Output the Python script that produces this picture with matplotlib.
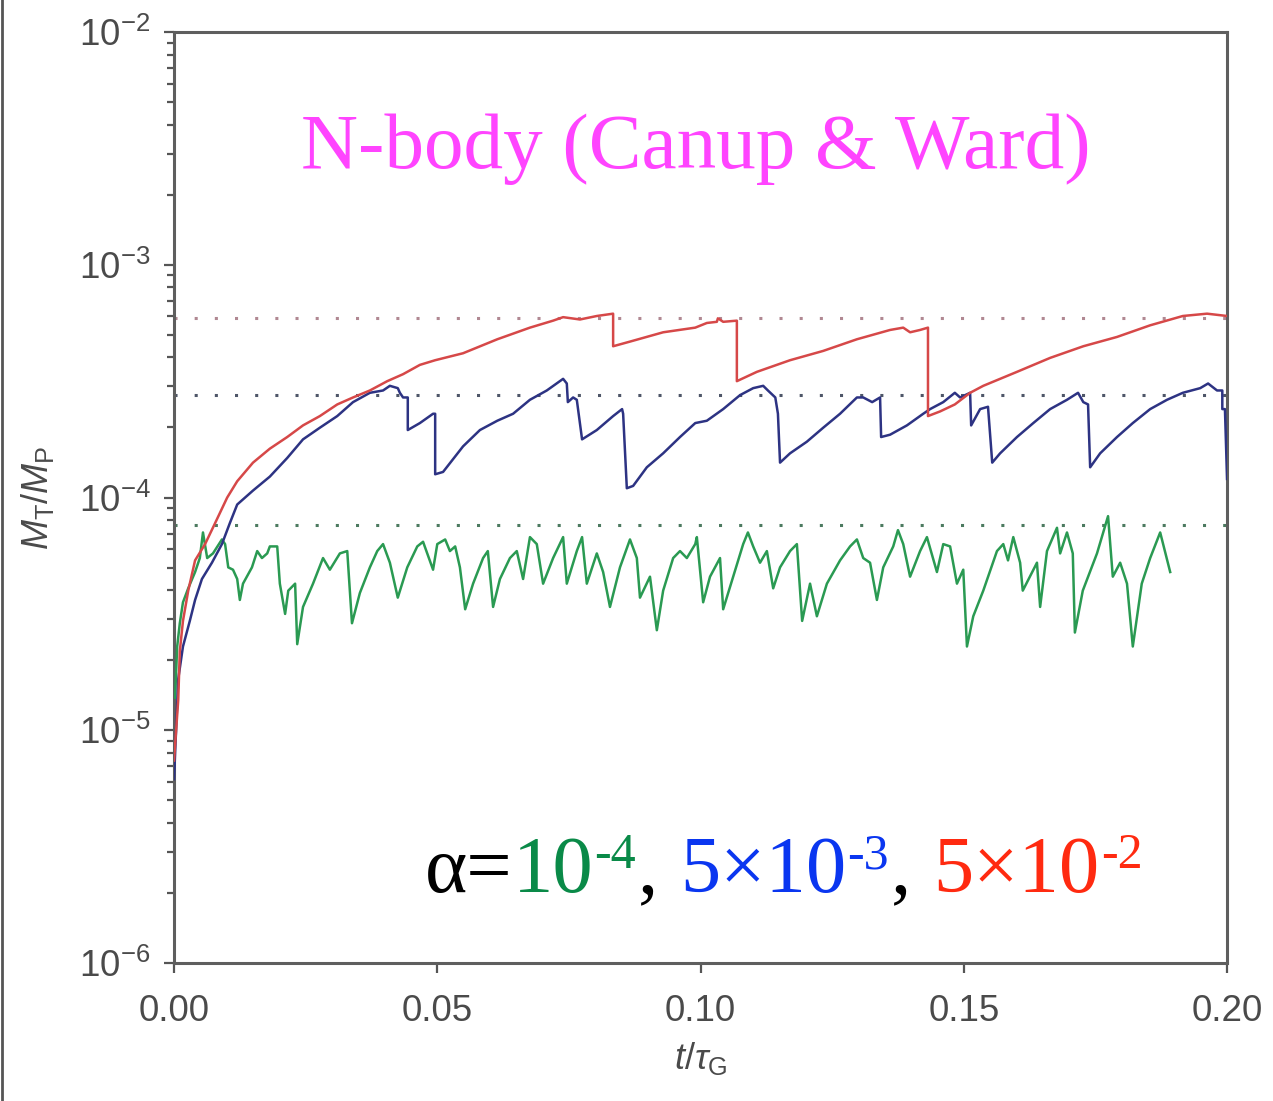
import numpy as np
import matplotlib
matplotlib.use('Agg')
import matplotlib.pyplot as plt
from matplotlib.lines import Line2D
from matplotlib.transforms import offset_copy

plt.rcParams['font.family'] = ['Liberation Sans', 'DejaVu Sans']
plt.rcParams['mathtext.fontset'] = 'custom'
plt.rcParams['mathtext.rm'] = 'Liberation Sans'
plt.rcParams['mathtext.it'] = 'Liberation Sans:italic'
plt.rcParams['mathtext.bf'] = 'Liberation Sans:bold'

# --- data (t / tau_G, log10 of M_T/M_P) ---
red_t = [0.0000, 0.0008, 0.0011, 0.0017, 0.0027, 0.0040, 0.0059, 0.0078, 0.0101, 0.0120,
         0.0150, 0.0182, 0.0215, 0.0245, 0.0277, 0.0310, 0.0340, 0.0372, 0.0405, 0.0435,
         0.0467, 0.0496, 0.0549, 0.0614, 0.0676, 0.0720, 0.0739, 0.0771, 0.0803, 0.0834,
         0.0834, 0.0866, 0.0929, 0.0990, 0.1012, 0.1031, 0.1033, 0.1043, 0.1069,
         0.1069, 0.1107, 0.1170, 0.1233, 0.1297, 0.1360, 0.1385, 0.1398, 0.1417, 0.1432,
         0.1432, 0.1455, 0.1483, 0.1512, 0.1537, 0.1601, 0.1664, 0.1727, 0.1791, 0.1854,
         0.1916, 0.1962, 0.2000]
red_logm = [-5.13, -4.87, -4.66, -4.53, -4.40, -4.27, -4.20, -4.11, -4.00, -3.93,
            -3.85, -3.79, -3.74, -3.69, -3.65, -3.60, -3.57, -3.54, -3.50, -3.47,
            -3.43, -3.41, -3.38, -3.32, -3.27, -3.24, -3.225, -3.235, -3.22, -3.21,
            -3.35, -3.33, -3.29, -3.27, -3.25, -3.245, -3.23, -3.245, -3.24,
            -3.50, -3.46, -3.41, -3.37, -3.32, -3.28, -3.27, -3.29, -3.28, -3.27,
            -3.65, -3.63, -3.60, -3.55, -3.52, -3.46, -3.40, -3.35, -3.31, -3.26,
            -3.22, -3.21, -3.22]

blue_t = [0.0000, 0.0008, 0.0017, 0.0030, 0.0040, 0.0053, 0.0072, 0.0091, 0.0106, 0.0120,
          0.0150, 0.0182, 0.0215, 0.0245, 0.0277, 0.0310, 0.0340, 0.0372, 0.0397, 0.0410,
          0.0425, 0.0429, 0.0435, 0.0444, 0.0444, 0.0467, 0.0492, 0.0496, 0.0496, 0.0511,
          0.0549, 0.0581, 0.0614, 0.0644, 0.0676, 0.0708, 0.0739, 0.0746, 0.0748, 0.0758,
          0.0765, 0.0775, 0.0803, 0.0834, 0.0851, 0.0853, 0.0860, 0.0872, 0.0898, 0.0929,
          0.0961, 0.0990, 0.1012, 0.1043, 0.1075, 0.1100, 0.1119, 0.1128, 0.1142, 0.1147,
          0.1151, 0.1170, 0.1202, 0.1233, 0.1265, 0.1297, 0.1309, 0.1326, 0.1341, 0.1343,
          0.1360, 0.1392, 0.1423, 0.1436, 0.1461, 0.1483, 0.1493, 0.1512, 0.1514, 0.1531,
          0.1546, 0.1554, 0.1569, 0.1601, 0.1632, 0.1664, 0.1696, 0.1717, 0.1727, 0.1736,
          0.1740, 0.1759, 0.1791, 0.1821, 0.1854, 0.1886, 0.1916, 0.1949, 0.1964, 0.1981,
          0.1991, 0.1991, 0.1996, 0.2000]
blue_logm = [-5.21, -4.78, -4.64, -4.53, -4.44, -4.35, -4.28, -4.20, -4.11, -4.03,
             -3.97, -3.91, -3.83, -3.75, -3.70, -3.65, -3.59, -3.55, -3.54, -3.52,
             -3.53, -3.55, -3.57, -3.57, -3.71, -3.68, -3.64, -3.64, -3.90, -3.89,
             -3.78, -3.71, -3.67, -3.64, -3.58, -3.54, -3.49, -3.51, -3.59, -3.57,
             -3.58, -3.75, -3.71, -3.65, -3.62, -3.64, -3.96, -3.95, -3.87, -3.81,
             -3.74, -3.68, -3.67, -3.62, -3.56, -3.53, -3.52, -3.54, -3.57, -3.64,
             -3.85, -3.81, -3.76, -3.70, -3.64, -3.57, -3.57, -3.59, -3.57, -3.74,
             -3.73, -3.69, -3.64, -3.62, -3.59, -3.55, -3.57, -3.55, -3.69, -3.62,
             -3.61, -3.85, -3.81, -3.74, -3.68, -3.62, -3.58, -3.55, -3.59, -3.60,
             -3.87, -3.81, -3.74, -3.68, -3.62, -3.58, -3.55, -3.53, -3.51, -3.54,
             -3.54, -3.62, -3.62, -3.92]

green_t = [0.0002, 0.0006, 0.0011, 0.0017, 0.0027, 0.0040, 0.0049, 0.0055, 0.0063, 0.0074,
           0.0091, 0.0097, 0.0103, 0.0112, 0.0120, 0.0125, 0.0131, 0.0148, 0.0158, 0.0167,
           0.0177, 0.0182, 0.0196, 0.0201, 0.0211, 0.0217, 0.0230, 0.0234, 0.0245, 0.0264,
           0.0283, 0.0296, 0.0315, 0.0329, 0.0338, 0.0353, 0.0372, 0.0386, 0.0397, 0.0410,
           0.0425, 0.0443, 0.0462, 0.0473, 0.0492, 0.0500, 0.0515, 0.0524, 0.0534, 0.0543,
           0.0553, 0.0568, 0.0587, 0.0596, 0.0606, 0.0619, 0.0638, 0.0651, 0.0663, 0.0676,
           0.0689, 0.0701, 0.0720, 0.0739, 0.0746, 0.0765, 0.0775, 0.0784, 0.0803, 0.0815,
           0.0828, 0.0847, 0.0866, 0.0879, 0.0885, 0.0904, 0.0917, 0.0929, 0.0948, 0.0961,
           0.0974, 0.0990, 0.0993, 0.1005, 0.1018, 0.1037, 0.1043, 0.1062, 0.1081, 0.1090,
           0.1100, 0.1113, 0.1126, 0.1138, 0.1151, 0.1170, 0.1183, 0.1193, 0.1208, 0.1221,
           0.1240, 0.1265, 0.1284, 0.1297, 0.1309, 0.1322, 0.1335, 0.1347, 0.1366, 0.1375,
           0.1385, 0.1398, 0.1417, 0.1430, 0.1449, 0.1461, 0.1474, 0.1487, 0.1499, 0.1506,
           0.1518, 0.1537, 0.1563, 0.1575, 0.1584, 0.1594, 0.1607, 0.1612, 0.1639, 0.1645,
           0.1658, 0.1677, 0.1683, 0.1696, 0.1707, 0.1711, 0.1726, 0.1753, 0.1774, 0.1783,
           0.1797, 0.1810, 0.1821, 0.1838, 0.1854, 0.1873, 0.1892]
green_logm = [-4.86, -4.64, -4.54, -4.45, -4.39, -4.32, -4.26, -4.15, -4.26, -4.24,
              -4.18, -4.20, -4.30, -4.31, -4.35, -4.44, -4.37, -4.30, -4.23, -4.26,
              -4.24, -4.21, -4.21, -4.37, -4.50, -4.40, -4.37, -4.63, -4.47, -4.37,
              -4.26, -4.31, -4.24, -4.23, -4.54, -4.41, -4.30, -4.23, -4.20, -4.28,
              -4.43, -4.30, -4.21, -4.19, -4.31, -4.20, -4.18, -4.23, -4.21, -4.30,
              -4.48, -4.37, -4.26, -4.23, -4.47, -4.35, -4.26, -4.23, -4.35, -4.17,
              -4.20, -4.37, -4.26, -4.17, -4.37, -4.23, -4.17, -4.37, -4.24, -4.32,
              -4.47, -4.30, -4.18, -4.26, -4.43, -4.34, -4.57, -4.40, -4.26, -4.23,
              -4.26, -4.20, -4.17, -4.45, -4.34, -4.26, -4.48, -4.34, -4.20, -4.15,
              -4.21, -4.28, -4.23, -4.39, -4.30, -4.23, -4.20, -4.53, -4.37, -4.51,
              -4.37, -4.27, -4.21, -4.18, -4.26, -4.28, -4.44, -4.30, -4.21, -4.14,
              -4.20, -4.34, -4.23, -4.17, -4.32, -4.20, -4.21, -4.37, -4.31, -4.64,
              -4.51, -4.40, -4.23, -4.20, -4.27, -4.17, -4.28, -4.40, -4.28, -4.47,
              -4.23, -4.13, -4.24, -4.15, -4.24, -4.58, -4.40, -4.24, -4.08, -4.34,
              -4.28, -4.37, -4.64, -4.37, -4.26, -4.15, -4.32]

# saturation levels (dotted lines)
levels = [5.9e-4, 2.76e-4, 7.6e-5]
level_colors = ['#b08892', '#4e5668', '#4c7a60']

line_colors = {'red': '#d64848', 'blue': '#2d3383', 'green': '#2a9a52'}

fig = plt.figure(figsize=(12.73, 11.01), dpi=100)
ax = fig.add_axes([0.1367, 0.1253, 0.8272, 0.8456])

for lv, c in zip(levels, level_colors):
    ax.axhline(lv, color=c, lw=2.2, linestyle=(0, (1.0, 5.6)), zorder=1)

ax.plot(green_t, 10 ** np.array(green_logm), color=line_colors['green'], lw=1.8, zorder=3)
ax.plot(blue_t, 10 ** np.array(blue_logm), color=line_colors['blue'], lw=1.8, zorder=4)
ax.plot(red_t, 10 ** np.array(red_logm), color=line_colors['red'], lw=1.8, zorder=5)

ax.set_yscale('log')
ax.set_xlim(0, 0.2)
ax.set_ylim(1e-6, 1e-2)
ax.set_xticks([0.0, 0.05, 0.10, 0.15, 0.20])
ax.set_xticklabels(['0.00', '0.05', '0.10', '0.15', '0.20'])

for side in ['left', 'bottom', 'top', 'right']:
    ax.spines[side].set_color('#5e5e5e')
    ax.spines[side].set_linewidth(2.2)

ax.tick_params(which='both', direction='out', top=False, right=False, colors='#555555')
ax.tick_params(axis='y', which='major', length=7, width=1.6, labelsize=26.5, pad=10)
ax.tick_params(axis='y', which='minor', length=5, width=1.6)
ax.tick_params(axis='x', which='major', length=7, width=1.6, labelsize=26.5, pad=15)
for lab in ax.get_xticklabels() + ax.get_yticklabels():
    lab.set_color('#4a4a4a')

ax.set_ylabel(r'$\mathit{M}_{\rm T}/\mathit{M}_{\rm P}$', fontsize=26, color='#4a4a4a', labelpad=16)
ax.set_xlabel(r'$\mathit{t}/\tau_{\rm G}$', fontsize=26, color='#4a4a4a', labelpad=8)

ax.text(0.4957, 0.854, 'N-body (Canup & Ward)', transform=ax.transAxes,
        ha='center', va='baseline', fontsize=57, color='#ff44ff', family='Liberation Serif')


def color_text(ax, x, y, parts):
    r = fig.canvas.get_renderer()
    dx = 0.0
    for s, c, size, rise, gap in parts:
        tr = offset_copy(ax.transAxes, fig=fig, x=dx, y=rise, units='dots')
        t = ax.text(x, y, s, color=c, fontsize=size, family='Liberation Serif',
                    transform=tr, va='baseline', ha='left')
        dx += t.get_window_extent(r).width + gap


c_g, c_b, c_r = '#0a8a48', '#0a36f0', '#ff2a10'
color_text(ax, 0.2384, 0.0763, [
    ('\u03b1=', 'black', 58, 0, 0),
    ('10', c_g, 58, 0, 1),
    ('-4', c_g, 36, 24, 2),
    (',', 'black', 58, 0, 22),
    ('5\u00d710', c_b, 58, 0, 1),
    ('-3', c_b, 36, 24, 2),
    (',', 'black', 58, 0, 22),
    ('5\u00d710', c_r, 58, 0, 1),
    ('-2', c_r, 36, 24, 0),
])

fig.add_artist(Line2D([0.0012, 0.0012], [0, 1], transform=fig.transFigure, color='#555555', lw=2))

fig.savefig('out.png', dpi=100)
